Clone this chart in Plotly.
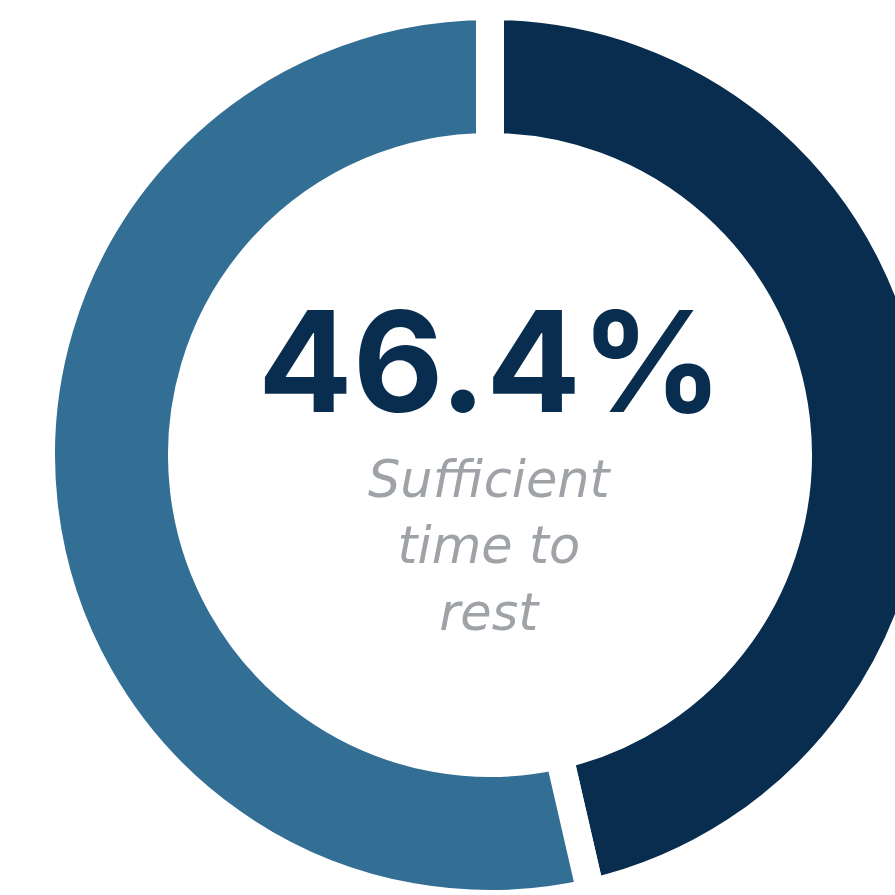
import plotly.graph_objects as go

labels = ["Sufficient time to rest", "Other"]
values = [46.4, 53.6]
colors = ["#082d4e", "#336f94"]
big_label = "46.4%"
sub_label = "Sufficient<br>time to<br>rest"

W, H = 1000, 1000
cx, cy = 490, 455      # centre in page pixels (from top-left)
R = 449                # geometric radius incl. half stroke

fig = go.Figure(go.Pie(
    labels=labels,
    values=values,
    sort=False,
    direction="clockwise",
    rotation=0,
    hole=0.686,
    marker=dict(colors=colors, line=dict(color="white", width=28)),
    textinfo="none",
    hoverinfo="skip",
    showlegend=False,
    domain=dict(x=[(cx - R) / W, (cx + R) / W], y=[(H - cy - R) / H, (H - cy + R) / H]),
))

fig.add_annotation(
    text=big_label, x=cx / W, y=1 - 361 / H, xref="paper", yref="paper",
    xanchor="center", yanchor="middle", showarrow=False,
    font=dict(family="Inter, Roboto, sans-serif", size=140, color="#082d4e", weight="bold"),
)
fig.add_annotation(
    text=sub_label, x=cx / W, y=1 - 546 / H, xref="paper", yref="paper",
    xanchor="center", yanchor="middle", showarrow=False,
    font=dict(family="DejaVu Sans", size=51, color="#9fa3a7", style="italic"),
)

fig.update_layout(
    width=W, height=H,
    margin=dict(l=0, r=0, t=0, b=0),
    paper_bgcolor="white", plot_bgcolor="white",
)

fig.write_html(
    "out.html",
    post_script="document.body.style.margin='0';document.body.style.overflow='hidden';",
)
